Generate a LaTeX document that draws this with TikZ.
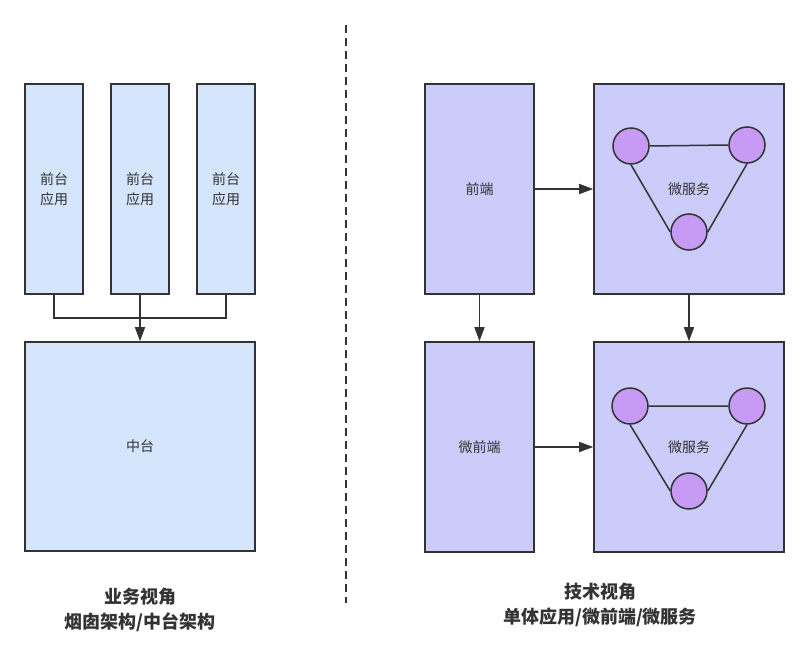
\documentclass[tikz,border=0pt]{standalone}
\usepackage{fontspec}
\setmainfont{Noto Sans CJK SC}
\usetikzlibrary{arrows.meta,positioning}

\definecolor{textgray}{HTML}{333333}
\definecolor{bizblue}{HTML}{D4E5FC}
\definecolor{techpurple}{HTML}{CCCCFA}
\definecolor{svcpurple}{HTML}{C79BF5}

\begin{document}
\begin{tikzpicture}[x=1pt,y=-1pt,node distance=26.4pt,
  every node/.style={text=textgray,font=\fontsize{14}{20}\selectfont},
  biz/.style={draw=textgray,line width=1.6pt,fill=bizblue,inner sep=0pt,align=center},
  tech/.style={draw=textgray,line width=1.6pt,fill=techpurple,inner sep=0pt,align=center},
  svc/.style={circle,draw=textgray,line width=1.5pt,fill=svcpurple,minimum size=36pt,inner sep=0pt},
  link/.style={draw=textgray,line width=1.5pt},
  arrow/.style={link,-{Triangle[length=14pt,width=10pt]}},
  title/.style={align=center,font=\fontsize{18}{25}\selectfont\bfseries}]
  \useasboundingbox (0,0) rectangle (809,653);
  % business view
  \node[biz,minimum width=58pt,minimum height=210pt] (app1) at (54,189)  {前台\\应用};
  \node[biz,minimum width=58pt,minimum height=210pt] (app2) [right=of app1] {前台\\应用};
  \node[biz,minimum width=58pt,minimum height=210pt] (app3) [right=of app2] {前台\\应用};
  \node[biz,minimum width=230pt,minimum height=209pt] (zt) at (140,446.5) {中台};
  \coordinate (join) at (140,318);
  \path[link] (app1.south) |- (join) -| (app3.south);
  \path[arrow] (app2.south) -- (zt.north);
  \node[title] (biztitle) at (140,610) {业务视角\\烟囱架构/中台架构};
  % divider
  \coordinate (divtop) at (346,25);
  \coordinate (divbot) at (346,603);
  \draw[textgray,line width=1.6pt,dash pattern=on 8pt off 5pt] (divtop) -- (divbot);
  % technical view
  \node[tech,minimum width=109pt,minimum height=210pt] (fe)  at (479.5,189) {前端};
  \node[tech,minimum width=190pt,minimum height=210pt] (ms1) at (689,189)   {微服务};
  \node[tech,minimum width=109pt,minimum height=210pt] (mfe) at (479.5,447) {微前端};
  \node[tech,minimum width=190pt,minimum height=210pt] (ms2) at (689,447)   {微服务};
  \node[svc] (a1) at (631,146) {};
  \node[svc] (b1) at (747,145) {};
  \node[svc] (c1) at (689,232) {};
  \node[svc] (a2) at (630,406) {};
  \node[svc] (b2) at (747,406) {};
  \node[svc] (c2) at (689,491) {};
  \path[link] (a1.east) -- (b1.west)
              (a1.south) -- (c1.west)
              (b1.south) -- (c1.east)
              (a2.east) -- (b2.west)
              (a2.south) -- (c2.west)
              (b2.south) -- (c2.east);
  \path[arrow] (fe.east) -- (ms1.west);
  \path[arrow] (fe.south) -- (mfe.north);
  \path[arrow] (ms1.south) -- (ms2.north);
  \path[arrow] (mfe.east) -- (ms2.west);
  \node[title] (techtitle) at (600,605) {技术视角\\单体应用/微前端/微服务};
\end{tikzpicture}
\end{document}
